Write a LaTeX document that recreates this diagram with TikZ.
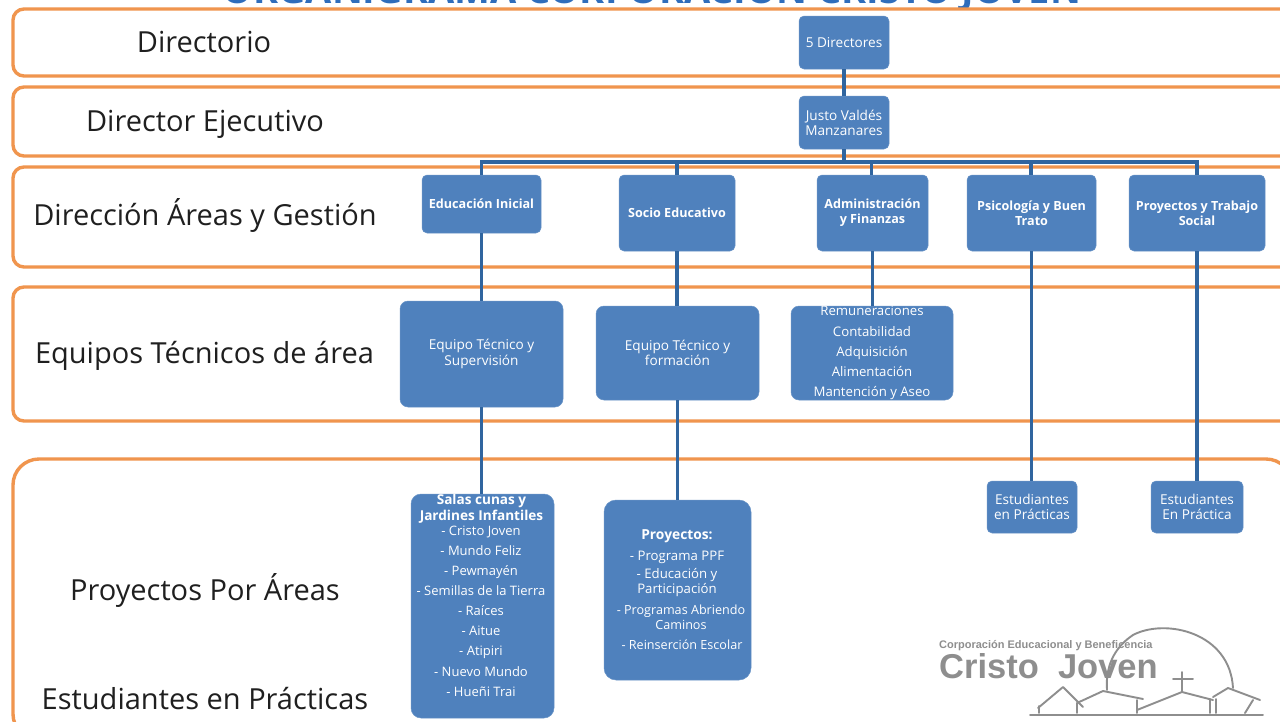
\documentclass[tikz,border=0pt]{standalone}
\usepackage{fontspec}
\setmainfont{Open Sans}
\newfontfamily\logofont{Liberation Sans}
\definecolor{bandor}{HTML}{F0954E}
\definecolor{boxblue}{HTML}{4F81BD}
\definecolor{linkblue}{HTML}{30659F}
\definecolor{titleblue}{HTML}{2F6DBB}
\definecolor{logogrey}{HTML}{8E8E8E}
\tikzset{
  band/.style={draw=bandor,line width=3.4pt,rounded corners=11pt,fill=white,inner sep=0pt},
  bandlabel/.style={font=\fontsize{29}{32}\selectfont,text=black!88,inner sep=0pt,anchor=base},
  bluebox/.style={fill=boxblue,draw=boxblue!85!white,line width=0.5pt,rounded corners=5pt,text=white,align=center,inner sep=0pt,font=\fontsize{13.6}{15.2}\selectfont},
  boldbox/.style={bluebox,font=\bfseries\fontsize{12.6}{15}\selectfont},
  boxtext/.style={inner sep=0pt,text=white,align=center},
  link/.style={draw=linkblue,line width=3.6pt},
  logoline/.style={draw=logogrey,line width=1.9pt,line cap=round,line join=round}
}
\newcommand{\boxat}[6]{\node[#1,minimum width=#4pt-#3pt,minimum height=#6pt-#5pt] (#2) at ({(#3+#4)/2*1pt},{-(#5+#6)/2*1pt})}
\begin{document}
\begin{tikzpicture}[x=1pt,y=-1pt]
\useasboundingbox (0,0) rectangle (1280,721);
\clip (0,0) rectangle (1280,721);
\fill[white] (0,0) rectangle (1280,721);
% title, cut by the top edge
\node[anchor=base,inner sep=0pt,text=titleblue,font=\bfseries\fontsize{38}{42}\selectfont] (title) at (652,3) {ORGANIGRAMA CORPORACIÓN CRISTO JOVEN};
% bands
\boxat{band}{b1}{13}{1320}{9}{76}{};
\boxat{band}{b2}{13}{1320}{87}{156}{};
\boxat{band}{b3}{13}{1320}{167}{267}{};
\boxat{band}{b4}{13}{1320}{287}{421}{};
\boxat{band,rounded corners=26pt}{b5}{13}{1292}{459}{740}{};
% band labels
\node[bandlabel] (l1) at (204,52) {Directorio};
\node[bandlabel] (l2) at (205,131) {Director Ejecutivo};
\node[bandlabel] (l3) at (205,225) {Dirección Áreas y Gestión};
\node[bandlabel] (l4) at (204.5,363) {Equipos Técnicos de área};
\node[bandlabel] (l5) at (205,600) {Proyectos Por Áreas};
\node[bandlabel] (l6) at (205,709) {Estudiantes en Prácticas};
% boxes
\boxat{bluebox}{dir}{799}{889}{16}{69}{5 Directores};
\boxat{bluebox}{eje}{799}{889}{96}{149}{Justo Valdés\\Manzanares};
\boxat{boldbox}{edu}{422}{541}{175}{233}{Educación Inicial};
\boxat{boldbox}{soc}{619}{735}{175}{251}{Socio Educativo};
\boxat{boldbox}{adm}{817}{928}{175}{251}{Administración\\y Finanzas};
\boxat{boldbox}{psi}{967}{1096}{175}{251}{Psicología y Buen\\Trato};
\boxat{boldbox}{pro}{1129}{1265}{175}{251}{Proyectos y Trabajo\\Social};
\boxat{bluebox,rounded corners=8pt}{eq1}{400}{563}{301}{407}{Equipo Técnico y\\Supervisión};
\boxat{bluebox,rounded corners=8pt}{eq2}{596}{759}{306}{400}{Equipo Técnico y\\formación};
\boxat{bluebox,rounded corners=8pt,font=\fontsize{13.2}{20.25}\selectfont}{eq3}{791}{953}{306}{400}{Remuneraciones\\Contabilidad\\Adquisición\\Alimentación\\Mantención y Aseo};
\boxat{bluebox,rounded corners=10pt}{sal}{411}{554}{494}{718}{};
\boxat{bluebox,rounded corners=12pt}{pry}{604}{751}{500}{680}{};
\boxat{bluebox}{es1}{987}{1077}{481}{533}{Estudiantes\\en Prácticas};
\boxat{bluebox}{es2}{1151}{1243}{481}{533}{Estudiantes\\En Práctica};
% text of the two long boxes
\node[boxtext,anchor=center,font=\bfseries\fontsize{13.6}{16}\selectfont] (saltitle) at (481.5,508.5) {Salas cunas y\\Jardines Infantiles};
\node[boxtext,anchor=center,font=\fontsize{13}{20.1}\selectfont] (sallist) at (481,611) {- Cristo Joven\\- Mundo Feliz\\- Pewmayén\\- Semillas de la Tierra\\- Raíces\\- Aitue\\- Atipiri\\- Nuevo Mundo\\- Hueñi Trai};
\node[boxtext,anchor=base,font=\bfseries\fontsize{13.8}{16}\selectfont] (prytitle) at (677,539) {Proyectos:};
\node[boxtext,anchor=base,font=\fontsize{13.2}{15}\selectfont] (p1) at (677,560) {- Programa PPF};
\node[boxtext,anchor=center,font=\fontsize{13.2}{15}\selectfont] (p2) at (677,582.5) {- Educación y\\Participación};
\node[boxtext,anchor=center,font=\fontsize{12.6}{15}\selectfont] (p3) at (681,617.5) {- Programas Abriendo\\Caminos};
\node[boxtext,anchor=base,font=\fontsize{12.6}{15}\selectfont] (p4) at (682,649) {- Reinserción Escolar};
% connectors
\coordinate (bus) at (844,162);
\draw[link] (dir.south) -- (eje.north);
\draw[link] (eje.south) -- (bus);
\draw[link] (edu.north) |- (bus) -| (pro.north);
\draw[link] (soc.north) -- ++(0,-13);
\draw[link] ([xshift=-1pt]adm.north) -- ++(0,-13);
\draw[link] ([xshift=-0.5pt]psi.north) -- ++(0,-13);
\draw[link] (edu.south) -- (edu.south |- eq1.north);
\draw[link] (eq1.south) -- (eq1.south |- sal.north);
\draw[link] (soc.south) -- (soc.south |- eq2.north);
\draw[link] (eq2.south) -- (eq2.south |- pry.north);
\draw[link] (adm.south) -- (adm.south |- eq3.north);
\draw[link] (psi.south) -- (psi.south |- es1.north);
\draw[link] (pro.south) -- (pro.south |- es2.north);
% logo
\node[anchor=base west,inner sep=0pt,text=logogrey,font=\logofont\bfseries\fontsize{11}{14}\selectfont] (lg1) at (939,648) {Corporación Educacional y Beneficencia};
\node[anchor=base west,inner sep=0pt,text=logogrey,font=\logofont\bfseries\fontsize{34.5}{36}\selectfont] (lg2) at (939,678) {Cristo\ \ Joven};
\draw[logoline] (1030,715) -- (1263,715);
\draw[logoline] (1107,690) .. controls (1105,662) and (1118,645) .. (1133,635) .. controls (1165,618) and (1230,632) .. (1233,688);
\draw[logoline] (1182,672) -- (1182,692) (1173,679) -- (1193,679);
\draw[logoline] (1039,713) -- (1039,706) (1038,708) -- (1063,687) -- (1083,707);
\draw[logoline] (1077,713) -- (1077,703) -- (1103,691) -- (1143,699);
\draw[logoline] (1137,713) -- (1137,700);
\draw[logoline] (1137,710) -- (1182,692) -- (1213,700);
\draw[logoline] (1210,713) -- (1210,699) (1216,713) -- (1216,699);
\draw[logoline] (1213,697) -- (1228,688) -- (1260,700);
\draw[logoline] (1245,713) -- (1253,700);
\end{tikzpicture}
\end{document}
